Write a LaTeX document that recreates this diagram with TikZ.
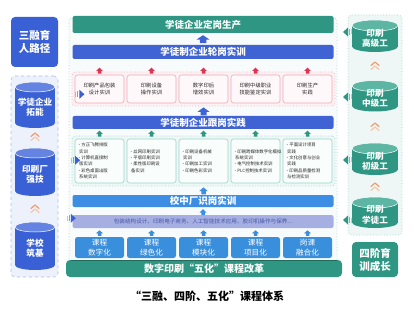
\documentclass[tikz,border=0pt]{standalone}
\usepackage{fontspec}
\setmainfont{Noto Sans CJK SC}
\usetikzlibrary{calc}
\definecolor{teal1}{HTML}{2E9682}
\definecolor{tealtop}{HTML}{5DB6A4}
\definecolor{royal}{HTML}{3A60D6}
\definecolor{royaltop}{HTML}{6584E2}
\definecolor{bluebar}{HTML}{3F63D2}
\definecolor{bluebarB}{HTML}{3D8DE4}
\definecolor{course}{HTML}{3A8FDC}
\definecolor{purp}{HTML}{A6AFE2}
\definecolor{purptxt}{HTML}{4A58A6}
\definecolor{pinkF}{HTML}{FDF1F4}
\definecolor{pinkB}{HTML}{F3B3C0}
\definecolor{pinkBoxF}{HTML}{FFF8FA}
\definecolor{pinkBoxB}{HTML}{EEA9B7}
\definecolor{greenF}{HTML}{EDF7F5}
\definecolor{greenB}{HTML}{A6DAD0}
\definecolor{greenBoxF}{HTML}{F9FDFC}
\definecolor{greenBoxB}{HTML}{9CD4C8}
\definecolor{panelF}{HTML}{F7FBFB}
\definecolor{panelB}{HTML}{B0DDD4}
\definecolor{lpanelF}{HTML}{EDF1FC}
\definecolor{lpanelB}{HTML}{AEBDEE}
\definecolor{rpanelF}{HTML}{EEF7F5}
\definecolor{rpanelB}{HTML}{A8D9CF}
\definecolor{redarr}{HTML}{E2324F}
\definecolor{orng}{HTML}{F39A6C}
\definecolor{orngL}{HTML}{F8C4A6}
\definecolor{txtd}{HTML}{262626}

\newcommand\mkcyl[9]{%
  \fill[#7] ({#2-#5},#3) rectangle ({#2+#5},#4);
  \fill[#7] (#2,#4) ellipse [x radius=#5, y radius=#6];
  \fill[#8, draw=white, line width=0.5pt] (#2,#3) ellipse [x radius=#5, y radius=#6];
  \node[cyltext] (#1) at (#2,{(#3+#4)/2+#6*0.45}) {#9};
}

\begin{document}
\begin{tikzpicture}[x=1pt,y=-1pt,
  bar/.style={rounded corners=2pt, minimum width=261pt, inner sep=0pt, text=white, font=\bfseries\fontsize{9.5}{11}\selectfont},
  pinkbox/.style={draw=pinkBoxB, fill=pinkBoxF, rounded corners=2.5pt, line width=0.6pt, minimum width=49pt, minimum height=28pt, inner sep=0pt, align=center, text=txtd, font=\fontsize{5.3}{7.2}\selectfont},
  greenbox/.style={draw=greenBoxB, fill=greenBoxF, rounded corners=2.5pt, line width=0.6pt, minimum width=49pt, minimum height=44pt, inner sep=0pt, text width=45pt, align=left, text=txtd, font=\fontsize{4.4}{6.4}\selectfont},
  coursebox/.style={fill=course, rounded corners=2.5pt, minimum width=49pt, minimum height=21pt, inner sep=0pt, align=center, text=white, font=\fontsize{7.6}{9.4}\selectfont},
  cyltext/.style={text=white, align=center, inner sep=0pt, font=\bfseries\fontsize{8.6}{10.6}\selectfont},
  sidebox/.style={rounded corners=4pt, inner sep=0pt, align=center, text=white, font=\bfseries\fontsize{10.5}{13}\selectfont},
  chevst/.style={line width=1.2pt, line cap=round, line join=round},
  pics/blkup/.style n args={3}{code={%
    \fill[#3] (0,0) -- ({#1/2},{0.55*#2}) -- ({#1/4},{0.55*#2}) -- ({#1/4},#2) -- ({-#1/4},#2) -- ({-#1/4},{0.55*#2}) -- ({-#1/2},{0.55*#2}) -- cycle;}},
  pics/chev/.style={code={%
    \draw[chevst, orng] (-4,3.5) -- (0,0) -- (4,3.5);
    \draw[chevst, orngL] (-4,7.5) -- (0,4) -- (4,7.5);}},
  pics/rarr/.style={code={%
    \fill[royal] (0,0) -- (-5,-4.5) -- (-5,4.5) -- cycle;
    \fill[royal, opacity=0.6] (-7,-3) rectangle (-6,3);
    \fill[royal, opacity=0.35] (-9,-2.5) rectangle (-8,2.5);}},
  pics/larr/.style={code={%
    \fill[teal1] (0,0) -- (5,-4.5) -- (5,4.5) -- cycle;
    \fill[teal1, opacity=0.6] (6,-3) rectangle (7,3);
    \fill[teal1, opacity=0.35] (8,-2.5) rectangle (9,2.5);}}
]
\useasboundingbox (0,0) rectangle (414,320);
\fill[white] (0,0) rectangle (414,320);

% ---------- left column ----------
\node[sidebox, fill=royal, minimum width=47pt, minimum height=50pt] (sanrong) at (34.5,42) {三融育\\人路径};
\node[draw=lpanelB, dashed, fill=lpanelF, rounded corners=4pt, line width=0.6pt, minimum width=47pt, minimum height=201pt] (lpanel) at (34.5,176.5) {};
\mkcyl{c1}{35}{87}{123}{20}{5}{royal}{royaltop}{学徒企业\\拓能}
\mkcyl{c2}{35}{153}{191}{20}{5}{royal}{royaltop}{印刷厂\\强技}
\mkcyl{c3}{35}{227}{265}{20}{5}{royal}{royaltop}{学校\\筑基}
\pic at (35,133) {chev};
\pic at (35,205) {chev};

% ---------- right column ----------
\node[draw=rpanelB, dotted, fill=rpanelF, rounded corners=4pt, line width=0.8pt, minimum width=54pt, minimum height=220pt] (rpanel) at (375,125) {};
\mkcyl{r1}{375}{25.5}{46.5}{23}{5.5}{teal1}{tealtop}{印刷\\高级工}
\mkcyl{r2}{375}{86}{106}{23}{5.5}{teal1}{tealtop}{印刷\\中级工}
\mkcyl{r3}{375}{148.5}{169.5}{23}{5.5}{teal1}{tealtop}{印刷\\初级工}
\mkcyl{r4}{375}{202.5}{222.5}{23}{5.5}{teal1}{tealtop}{印刷\\学徒工}
\pic at (375,62) {chev};
\pic at (375,123) {chev};
\pic at (375,183) {chev};
\node[sidebox, fill=teal1, minimum width=46pt, minimum height=35pt] (sijie) at (375,259.5) {四阶育\\训成长};

% ---------- middle panel ----------
\node[draw=panelB, dotted, fill=panelF, rounded corners=3pt, line width=0.8pt, minimum width=268pt, minimum height=244pt] (mpanel) at (203,140) {};

\node[bar, fill=teal1, minimum height=17pt] (b1) at (203,24.5) {学徒企业定岗生产};
\node[bar, fill=bluebar, minimum height=14pt] (b2) at (203,52) {学徒制企业轮岗实训};
\pic at ($(b1.south)+(0,2)$) {blkup={13}{8}{bluebar}};

% pink region
\node[draw=pinkB, dotted, fill=pinkF, rounded corners=3pt, line width=0.8pt, minimum width=263pt, minimum height=34pt] (pinkreg) at (203.5,89) {};
\node[pinkbox] (p1) at (99.5,89) {印刷产品包装\\设计实训};
\node[pinkbox] (p2) at (151.5,89) {印刷设备\\操作实训};
\node[pinkbox] (p3) at (203.5,89) {数字印后\\增效实训};
\node[pinkbox] (p4) at (255.5,89) {印刷中级职业\\技能鉴定实训};
\node[pinkbox] (p5) at (307.5,89) {印刷生产\\实践};
\foreach \n in {p1,p2,p3,p4,p5}{\pic at ($(\n.north)+(0,-7)$) {blkup={7}{6}{redarr}};}

\node[bar, fill=bluebar, minimum height=13pt] (b3) at (203,122.5) {学徒制企业跟岗实践};
\pic at ($(pinkreg.south)+(0,1)$) {blkup={12}{8}{bluebar}};

% green region
\node[draw=greenB, dotted, fill=greenF, rounded corners=3pt, line width=0.8pt, minimum width=263pt, minimum height=50pt] (greenreg) at (203.5,161) {};
\node[greenbox] (g1) at (99.5,161) {•方正飞腾排版\\\ \,实训\\•计算机直接制\\\ \,版实训\\•彩色桌面出版\\\ \,系统实训};
\node[greenbox] (g2) at (151.5,161) {•丝网印刷实训\\•平版印刷实训\\•柔性版印刷设\\\ \,备实训\\[12pt]};
\node[greenbox] (g3) at (203.5,161) {•印刷设备机械\\\ \,实训\\•印刷加工实训\\•印刷色彩实训\\[12pt]};
\node[greenbox] (g4) at (255.5,161) {•印刷跨媒体数字化模拟\\\ \,系统实训\\•电气控制技术实训\\•PLC控制技术实训\\[12pt]};
\node[greenbox] (g5) at (307.5,161) {•平面设计项目\\\ \,实践\\•文化创意与创业\\\ \,实践\\•印刷品质量检测\\\ \,与检测实训};
\foreach \n in {g1,g2,g3,g4,g5}{\pic at ($(\n.north)+(0,-8)$) {blkup={7}{6}{teal1}};}

\node[bar, fill=bluebarB, minimum height=12pt] (b4) at (203,201) {校中厂识岗实训};
\pic at ($(greenreg.south)+(0,1)$) {blkup={9}{7}{bluebarB}};

\node[rounded corners=2pt, fill=purp, minimum width=261pt, minimum height=13pt, inner sep=0pt, text=purptxt, font=\fontsize{5.6}{7}\selectfont] (pb) at (203,221.5) {包装结构设计、印刷电子商务、人工智能技术应用、胶印机操作与保养...};
\pic at ($(b4.south)+(0,2)$) {blkup={7}{6}{bluebarB}};

\node[coursebox] (k1) at (99.5,247.5) {课程\\数字化};
\node[coursebox] (k2) at (151.5,247.5) {课程\\绿色化};
\node[coursebox] (k3) at (203.5,247.5) {课程\\模块化};
\node[coursebox] (k4) at (255.5,247.5) {课程\\项目化};
\node[coursebox] (k5) at (307.5,247.5) {岗课\\融合化};
\foreach \n in {k1,k2,k3,k4,k5}{\pic at ($(\n.north)+(0,-6.5)$) {blkup={7}{5.5}{course}};}

\node[fill=teal1, rounded corners=4pt, minimum width=276pt, minimum height=17pt, inner sep=0pt, text=white, font=\bfseries\fontsize{10}{12}\selectfont] (reform) at (204,268.5) {数字印刷“五化”课程改革};
\draw[teal1!70!black, line width=1pt] ($(reform.north west)+(5,0.5)$) -- ($(reform.north east)+(-5,0.5)$);

% side arrows
\pic at ($(c1.east)+(32,-13)$) {rarr};
\pic at ($(c2.east)+(32,-14)$) {rarr};
\pic at ($(c3.east)+(32,-30)$) {rarr};
\pic at (343,32) {larr};
\pic at (343,97) {larr};
\pic at (343,160) {larr};
\pic at (343,220) {larr};

% title
\node[font=\bfseries\fontsize{11}{13}\selectfont, text=black] (title) at (207,296) {“三融、四阶、五化”课程体系};
\end{tikzpicture}
\end{document}
